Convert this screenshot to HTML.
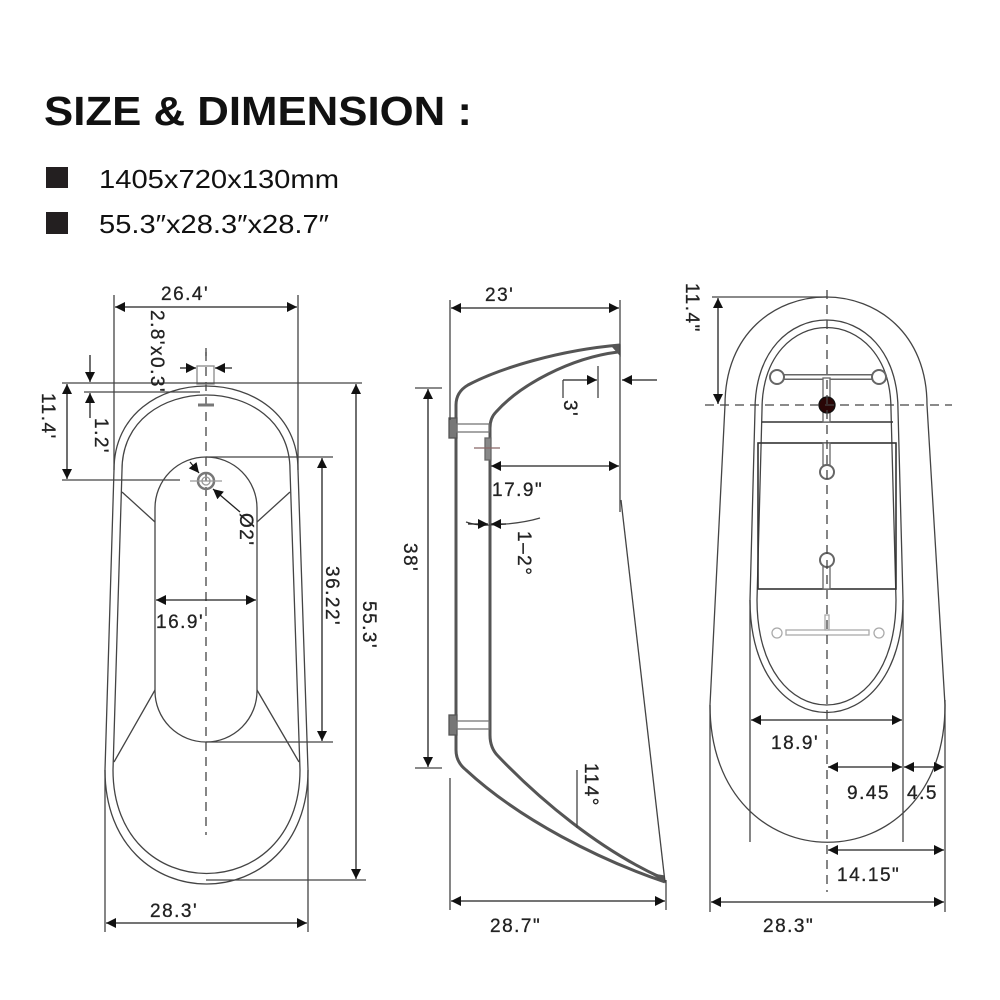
<!DOCTYPE html>
<html><head><meta charset="utf-8"><style>
html,body{margin:0;padding:0;background:#fff;}
svg{display:block;}
.t{font-family:"Liberation Sans",sans-serif;fill:#222;font-size:19px;letter-spacing:1.5px;stroke:#222;stroke-width:0.3px;}
</style></head><body>
<svg width="1000" height="1000" viewBox="0 0 1000 1000" xmlns="http://www.w3.org/2000/svg">
<defs>
<marker id="a" viewBox="0 0 10 10" refX="10" refY="5" markerWidth="14" markerHeight="10" markerUnits="userSpaceOnUse" orient="auto-start-reverse"><path d="M0,0 L10,5 L0,10 Z" fill="#111"/></marker>
</defs>
<rect width="1000" height="1000" fill="#fff"/>
<!-- header -->
<text x="44" y="125" font-family="Liberation Sans, sans-serif" font-weight="bold" font-size="41" fill="#111" textLength="428" lengthAdjust="spacingAndGlyphs">SIZE &amp; DIMENSION :</text>
<rect x="46" y="167" width="22" height="21" fill="#231f20"/>
<rect x="46" y="212" width="22" height="22" fill="#231f20"/>
<text x="99" y="188" font-family="Liberation Sans, sans-serif" font-size="26" fill="#111" textLength="240" lengthAdjust="spacingAndGlyphs">1405x720x130mm</text>
<text x="99" y="233" font-family="Liberation Sans, sans-serif" font-size="26" fill="#111" textLength="230" lengthAdjust="spacingAndGlyphs">55.3″x28.3″x28.7″</text>

<g fill="none" stroke="#444" stroke-width="1.3">
<!-- LEFT VIEW -->
<path d="M114,470 C114,358 298,358 298,470 L308,770 C308,922 105,922 105,770 Z"/>
<path d="M122,470 C122,370 290,370 290,470 L300,770 C300,908 113,908 113,770 Z"/>
<rect x="155" y="457" width="102" height="285" rx="51"/>
<path d="M155,522 L122,492 M257,522 L290,492 M155,690 L114,762 M257,690 L299,762"/>
<line x1="206" y1="352" x2="206" y2="835" stroke-dasharray="9,6"/>
<rect x="197" y="366" width="17" height="18" stroke="#888"/>
<line x1="198" y1="405" x2="214" y2="405" stroke="#777" stroke-width="3"/>
<circle cx="206" cy="481" r="8" stroke="#777" stroke-width="2.5"/>
<circle cx="206" cy="481" r="4" stroke="#999"/>
<line x1="190" y1="481" x2="222" y2="481" stroke="#999"/>
<!-- dims left -->
<line x1="114" y1="295" x2="114" y2="470"/>
<line x1="298" y1="295" x2="298" y2="470"/>
<line x1="115" y1="307" x2="297" y2="307" marker-start="url(#a)" marker-end="url(#a)" stroke="#222"/>
<line x1="180" y1="368" x2="196" y2="368" marker-end="url(#a)" stroke="#222"/>
<line x1="232" y1="368" x2="215" y2="368" marker-end="url(#a)" stroke="#222"/>
<line x1="206" y1="348" x2="206" y2="356"/>
<line x1="62" y1="383" x2="362" y2="383"/>
<line x1="84" y1="392" x2="200" y2="392"/>
<line x1="90" y1="355" x2="90" y2="382" marker-end="url(#a)" stroke="#222"/>
<line x1="90" y1="418" x2="90" y2="393" marker-end="url(#a)" stroke="#222"/>
<line x1="67" y1="384" x2="67" y2="479" marker-start="url(#a)" marker-end="url(#a)" stroke="#222"/>
<line x1="62" y1="480" x2="180" y2="480"/>
<line x1="190" y1="462" x2="199" y2="473" marker-end="url(#a)" stroke="#222"/>
<line x1="240" y1="512" x2="213" y2="489" marker-end="url(#a)" stroke="#222"/>
<line x1="156" y1="600" x2="256" y2="600" marker-start="url(#a)" marker-end="url(#a)" stroke="#222"/>
<line x1="206" y1="457" x2="333" y2="457"/>
<line x1="206" y1="742" x2="333" y2="742"/>
<line x1="322" y1="458" x2="322" y2="741" marker-start="url(#a)" marker-end="url(#a)" stroke="#222"/>
<line x1="206" y1="880" x2="366" y2="880"/>
<line x1="356" y1="384" x2="356" y2="879" marker-start="url(#a)" marker-end="url(#a)" stroke="#222"/>
<line x1="105" y1="770" x2="105" y2="932"/>
<line x1="308" y1="770" x2="308" y2="932"/>
<line x1="106" y1="923" x2="307" y2="923" marker-start="url(#a)" marker-end="url(#a)" stroke="#222"/>

<!-- MIDDLE VIEW -->
<g stroke="#555" stroke-width="3">
<path d="M620,345 C560,350 500,368 468,385 Q456,392 456,405 L456,750 Q456,762 466,770 C520,820 600,860 665,882"/>
<path d="M618,352 C570,358 520,385 496,412 Q490,418 490,428 L490,735 Q490,748 498,756 C540,800 600,850 662,878"/>
</g>
<path d="M612,346 L620,345 L620,355 Z" fill="#555" stroke="#555"/>
<path d="M652,874 L665,882 L664,876 Z" fill="#555" stroke="#555"/>
<line x1="620" y1="345" x2="620" y2="512"/>
<line x1="621" y1="500" x2="665" y2="882"/>
<rect x="449" y="418" width="8" height="20" fill="#777" stroke="#555"/>
<rect x="457" y="424" width="32" height="8" stroke="#777"/>
<rect x="449" y="715" width="8" height="20" fill="#777" stroke="#555"/>
<rect x="457" y="721" width="32" height="8" stroke="#777"/>
<rect x="485" y="438" width="6" height="22" fill="#888" stroke="#666"/>
<line x1="474" y1="448" x2="500" y2="448" stroke="#866"/>
<line x1="450" y1="300" x2="450" y2="420"/>
<line x1="620" y1="300" x2="620" y2="345"/>
<line x1="451" y1="308" x2="619" y2="308" marker-start="url(#a)" marker-end="url(#a)" stroke="#222"/>
<line x1="563" y1="380" x2="597" y2="380" marker-end="url(#a)" stroke="#222"/>
<line x1="657" y1="380" x2="622" y2="380" marker-end="url(#a)" stroke="#222"/>
<line x1="563" y1="380" x2="563" y2="398"/>
<line x1="598" y1="366" x2="598" y2="398"/>
<line x1="491" y1="466" x2="619" y2="466" marker-start="url(#a)" marker-end="url(#a)" stroke="#222"/>
<path d="M466,522 Q478,526 490,525 Q520,524 540,518"/>
<line x1="468" y1="524" x2="488" y2="524" marker-end="url(#a)" stroke="#222"/>
<line x1="506" y1="524" x2="491" y2="524" marker-end="url(#a)" stroke="#222"/>
<line x1="415" y1="388" x2="442" y2="388"/>
<line x1="415" y1="768" x2="442" y2="768"/>
<line x1="428" y1="389" x2="428" y2="767" marker-start="url(#a)" marker-end="url(#a)" stroke="#222"/>
<line x1="577" y1="770" x2="577" y2="828"/>
<line x1="450" y1="778" x2="450" y2="910"/>
<line x1="666" y1="880" x2="666" y2="910"/>
<line x1="451" y1="901" x2="665" y2="901" marker-start="url(#a)" marker-end="url(#a)" stroke="#222"/>

<!-- RIGHT VIEW -->
<path d="M725,405 C725,261 927,261 927,405 L945,705 C945,888 710,888 710,705 Z"/>
<path d="M755,410 C755,290 898,290 898,410 L903,600 C903,750 750,750 750,600 Z"/>
<path d="M762,410 C762,300 891,300 891,410 L896,600 C896,740 757,740 757,600 Z"/>
<path d="M762,422 L893,422" stroke="#333" stroke-width="1.6"/>
<rect x="758" y="443" width="138" height="146" stroke="#333" stroke-width="1.6"/>
<line x1="784" y1="377" x2="872" y2="377" stroke="#666" stroke-width="6"/>
<line x1="784" y1="377" x2="872" y2="377" stroke="#fff" stroke-width="3"/>
<circle cx="777" cy="377" r="7" stroke="#666" stroke-width="2" fill="#fff"/>
<circle cx="879" cy="377" r="7" stroke="#666" stroke-width="2" fill="#fff"/>
<rect x="823" y="378" width="7" height="44" stroke="#666" fill="#fff"/>
<circle cx="827" cy="405" r="8" fill="#2a0606" stroke="#111"/>
<rect x="823" y="443" width="7" height="22" stroke="#666" fill="#fff"/>
<circle cx="827" cy="472" r="7" stroke="#666" stroke-width="2" fill="#fff"/>
<rect x="823" y="566" width="7" height="23" stroke="#666" fill="#fff"/>
<circle cx="827" cy="560" r="7" stroke="#666" stroke-width="2" fill="#fff"/>
<rect x="786" y="630" width="83" height="5" stroke="#aaa" fill="#fff"/>
<circle cx="777" cy="633" r="5" stroke="#aaa" fill="#fff"/>
<circle cx="879" cy="633" r="5" stroke="#aaa" fill="#fff"/>
<rect x="825" y="615" width="4" height="15" stroke="#aaa"/>
<line x1="827" y1="290" x2="827" y2="892" stroke-dasharray="9,6"/>
<line x1="705" y1="405" x2="952" y2="405" stroke-dasharray="9,6"/>
<line x1="712" y1="297" x2="827" y2="297"/>
<line x1="718" y1="298" x2="718" y2="404" marker-start="url(#a)" marker-end="url(#a)" stroke="#222"/>
<line x1="750" y1="600" x2="750" y2="842"/>
<line x1="903" y1="600" x2="903" y2="842"/>
<line x1="751" y1="720" x2="902" y2="720" marker-start="url(#a)" marker-end="url(#a)" stroke="#222"/>
<line x1="828" y1="767" x2="902" y2="767" marker-start="url(#a)" marker-end="url(#a)" stroke="#222"/>
<line x1="904" y1="767" x2="944" y2="767" marker-start="url(#a)" marker-end="url(#a)" stroke="#222"/>
<line x1="828" y1="850" x2="944" y2="850" marker-start="url(#a)" marker-end="url(#a)" stroke="#222"/>
<line x1="945" y1="700" x2="945" y2="912"/>
<line x1="710" y1="705" x2="710" y2="912"/>
<line x1="711" y1="902" x2="944" y2="902" marker-start="url(#a)" marker-end="url(#a)" stroke="#222"/>
</g>

<!-- labels -->
<text class="t" x="161" y="300">26.4'</text>
<text class="t" font-size="16" transform="translate(151,310) rotate(90)">2.8'x0.3'</text>
<text class="t" transform="translate(95,418) rotate(90)">1.2'</text>
<text class="t" transform="translate(42,393) rotate(90)">11.4'</text>
<text class="t" transform="translate(240,513) rotate(90)">Ø2'</text>
<text class="t" x="156" y="628">16.9'</text>
<text class="t" transform="translate(326,566) rotate(90)">36.22'</text>
<text class="t" transform="translate(363,601) rotate(90)">55.3'</text>
<text class="t" x="150" y="917">28.3'</text>

<text class="t" x="485" y="301">23'</text>
<text class="t" transform="translate(564,400) rotate(90)">3'</text>
<text class="t" x="492" y="496">17.9"</text>
<text class="t" transform="translate(518,531) rotate(90)">1–2°</text>
<text class="t" transform="translate(404,543) rotate(90)">38'</text>
<text class="t" transform="translate(585,763) rotate(90)">114°</text>
<text class="t" x="490" y="932">28.7"</text>

<text class="t" transform="translate(686,283) rotate(90)">11.4"</text>
<text class="t" x="771" y="749">18.9'</text>
<text class="t" x="847" y="799">9.45</text>
<text class="t" x="907" y="799">4.5</text>
<text class="t" x="837" y="881">14.15"</text>
<text class="t" x="763" y="932">28.3"</text>
</svg>
</body></html>
